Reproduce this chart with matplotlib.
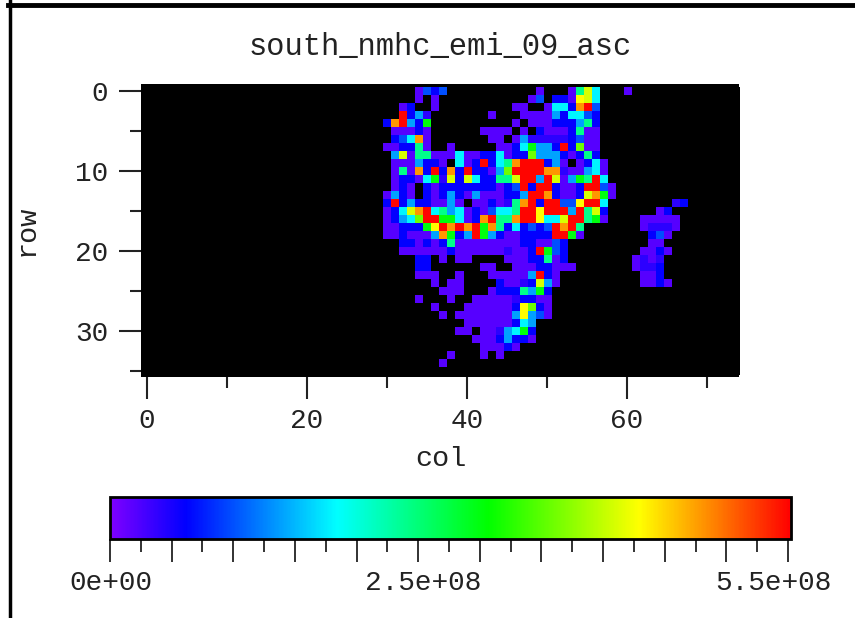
import numpy as np
import matplotlib
matplotlib.use("Agg")
import matplotlib.pyplot as plt
from matplotlib.colors import LinearSegmentedColormap
from matplotlib.lines import Line2D

# Cell levels, in units of 1e7
_, p, v, b, d, a, c, t, g, l, y, Y, o, r = 0, 2, 4, 6, 10, 14, 18, 24, 30, 36, 41, 43, 48, 55

title = "south_nmhc_emi_09_asc"
first_col = 30
n_rows, n_cols = 36, 75

# each row lists columns 30..67; everything else is empty
row_00 = [_,_,_,_,p,d,b,d,_,_, _,_,_,_,_,_,_,_,_,p, _,_,_,p,t,y,c,_,_,_, p,_,_,_,_,_,_,_]
row_01 = [_,_,_,_,p,_,p,_,_,_, _,_,_,_,_,_,_,_,p,d, _,b,b,p,Y,y,c,_,_,_, _,_,_,_,_,_,_,_]
row_02 = [_,_,p,b,_,_,p,_,_,_, _,_,_,_,_,_,p,p,_,_, p,c,c,b,o,r,d,_,_,_, _,_,_,_,_,_,_,_]
row_03 = [_,_,r,b,a,v,_,_,_,_, _,_,_,p,_,_,_,p,p,p, p,a,b,c,c,d,b,_,_,_, _,_,_,_,_,_,_,_]
row_04 = [b,o,r,a,b,g,_,_,_,_, _,_,_,_,_,_,p,_,p,p, p,b,b,b,a,t,b,_,_,_, _,_,_,_,_,_,_,_]
row_05 = [_,p,p,p,b,p,_,_,_,_, _,_,p,p,p,p,_,p,_,b, p,p,p,b,t,p,p,_,_,_, _,_,_,_,_,_,_,_]
row_06 = [_,b,d,c,o,p,_,_,_,_, _,_,_,p,p,_,p,a,v,v, v,v,v,b,d,p,p,_,_,_, _,_,_,_,_,_,_,_]
row_07 = [p,p,b,b,t,p,_,_,p,_, _,_,_,_,p,p,b,c,g,a, a,b,r,b,l,p,p,_,_,_, _,_,_,_,_,_,_,_]
row_08 = [_,a,y,p,t,t,p,p,p,c, p,p,b,b,c,p,b,b,l,a, a,a,b,p,b,t,b,_,_,_, _,_,_,_,_,_,_,_]
row_09 = [_,p,p,p,a,b,b,p,_,c, p,b,r,b,c,t,o,r,r,r, b,a,p,_,p,b,c,p,_,_, _,_,_,_,_,_,_,_]
row_10 = [_,p,t,p,o,b,r,b,o,b, r,b,b,p,a,l,r,r,r,r, o,o,v,p,p,a,c,p,_,_, _,_,_,_,_,_,_,_]
row_11 = [_,p,b,b,p,c,g,v,y,b, y,c,b,b,t,t,y,r,r,a, r,y,p,a,g,t,r,c,_,_, _,_,_,_,_,_,_,_]
row_12 = [_,p,b,p,_,b,p,b,b,b, b,b,b,b,p,b,d,r,b,r, r,b,p,p,b,r,r,d,p,_, _,_,_,_,_,_,_,_]
row_13 = [p,a,b,p,_,b,p,b,a,b, p,a,p,p,p,b,b,a,r,r, o,b,p,p,b,y,o,g,p,_, _,_,_,_,_,_,_,_]
row_14 = [b,r,b,a,b,b,p,p,a,p, _,p,p,b,p,v,t,o,r,b, r,r,d,d,Y,r,r,c,_,_, _,_,_,_,_,_,v,b]
row_15 = [p,b,c,y,o,r,c,t,a,c, p,b,p,d,c,c,t,r,r,Y, r,r,r,a,r,t,y,b,_,_, _,_,_,_,p,b,_,_]
row_16 = [p,b,a,c,l,r,r,g,g,c, p,b,o,r,t,t,o,r,r,Y, c,c,y,r,r,t,g,p,_,_, _,_,p,p,p,p,p,_]
row_17 = [p,p,b,b,b,g,Y,r,o,r, o,r,g,o,t,b,c,b,d,b, d,r,o,r,t,_,_,_,_,_, _,_,p,v,v,v,p,_]
row_18 = [p,p,b,p,p,p,a,o,g,b, a,r,g,a,b,p,p,b,b,b, b,r,r,g,p,_,_,_,_,_, _,_,_,b,d,p,_,_]
row_19 = [_,_,b,b,p,b,p,b,t,p, p,p,p,p,p,p,p,b,b,p, p,d,b,_,_,_,_,_,_,_, _,_,_,p,p,_,_,_]
row_20 = [_,_,p,p,p,p,p,p,b,p, p,p,p,p,p,v,p,p,b,r, g,d,b,_,_,_,_,_,_,_, _,_,p,p,b,p,_,_]
row_21 = [_,_,_,_,b,b,_,p,_,p, p,_,_,_,_,p,p,p,b,b, t,p,b,_,_,_,_,_,_,_, _,p,v,p,v,_,_,_]
row_22 = [_,_,_,_,b,b,_,_,_,_, _,_,p,p,_,_,p,p,p,b, b,p,p,p,_,_,_,_,_,_, _,p,v,v,b,_,_,_]
row_23 = [_,_,_,_,p,p,p,_,_,p, _,_,_,p,p,p,p,p,a,r, b,p,_,_,_,_,_,_,_,_, _,_,p,p,b,_,_,_]
row_24 = [_,_,_,_,_,_,p,_,p,p, _,_,_,_,b,p,p,v,b,y, a,p,_,_,_,_,_,_,_,_, _,_,p,p,b,p,_,_]
row_25 = [_,_,_,_,_,_,_,p,p,p, _,_,_,p,b,b,b,t,a,g, b,_,_,_,_,_,_,_,_,_, _,_,_,_,_,_,_,_]
row_26 = [_,_,_,_,p,_,_,_,p,_, _,p,p,p,p,p,v,b,b,p, p,_,_,_,_,_,_,_,_,_, _,_,_,_,_,_,_,_]
row_27 = [_,_,_,_,_,_,p,_,_,_, p,p,p,p,p,p,b,Y,l,b, p,_,_,_,_,_,_,_,_,_, _,_,_,_,_,_,_,_]
row_28 = [_,_,_,_,_,_,_,p,_,p, p,p,p,p,p,p,a,Y,a,d, p,_,_,_,_,_,_,_,_,_, _,_,_,_,_,_,_,_]
row_29 = [_,_,_,_,_,_,_,_,_,_, p,p,p,p,p,p,b,c,a,_, _,_,_,_,_,_,_,_,_,_, _,_,_,_,_,_,_,_]
row_30 = [_,_,_,_,_,_,_,_,_,p, p,_,p,p,v,a,c,g,b,_, _,_,_,_,_,_,_,_,_,_, _,_,_,_,_,_,_,_]
row_31 = [_,_,_,_,_,_,_,_,_,_, _,p,p,p,b,a,b,b,p,_, _,_,_,_,_,_,_,_,_,_, _,_,_,_,_,_,_,_]
row_32 = [_,_,_,_,_,_,_,_,_,_, _,_,p,p,p,b,p,_,_,_, _,_,_,_,_,_,_,_,_,_, _,_,_,_,_,_,_,_]
row_33 = [_,_,_,_,_,_,_,_,p,_, _,_,p,_,p,_,_,_,_,_, _,_,_,_,_,_,_,_,_,_, _,_,_,_,_,_,_,_]
row_34 = [_,_,_,_,_,_,_,p,_,_, _,_,_,_,_,_,_,_,_,_, _,_,_,_,_,_,_,_,_,_, _,_,_,_,_,_,_,_]

rows = [row_00, row_01, row_02, row_03, row_04, row_05, row_06, row_07, row_08,
        row_09, row_10, row_11, row_12, row_13, row_14, row_15, row_16, row_17,
        row_18, row_19, row_20, row_21, row_22, row_23, row_24, row_25, row_26,
        row_27, row_28, row_29, row_30, row_31, row_32, row_33, row_34]

grid = np.zeros((n_rows, n_cols))
for i, vals in enumerate(rows):
    grid[i, first_col:first_col + len(vals)] = np.array(vals) * 1e7
grid = np.ma.masked_equal(grid, 0)

cmap = LinearSegmentedColormap.from_list(
    "pv", [(0, "#7f00ff"), (1/9, "#0000ff"), (3/9, "#00ffff"),
           (5/9, "#00ff00"), (7/9, "#ffff00"), (1, "#ff0000")], N=512)
cmap.set_bad("black")

W, H = 855, 618
TEXT = "#222222"
plt.rcParams["font.family"] = ["Liberation Mono", "DejaVu Sans Mono"]
fig = plt.figure(figsize=(W / 100, H / 100), dpi=100)


def box(x0, y0, x1, y1):
    return [x0 / W, 1 - y1 / H, (x1 - x0) / W, (y1 - y0) / H]


ax = fig.add_axes(box(141, 84, 739, 377), facecolor="black")
im = ax.imshow(grid, cmap=cmap, vmin=0, vmax=5.524e8, aspect="auto",
               interpolation="nearest")
ax.set_xlim(-0.75, 74)
ax.set_ylim(35.75, -0.875)
for s in ax.spines.values():
    s.set_visible(False)
ax.set_xticks([0, 20, 40, 60])
ax.set_xticks([10, 30, 50, 70], minor=True)
ax.set_yticks([0, 10, 20, 30])
ax.set_yticks([5, 15, 25, 35], minor=True)
ax.tick_params(which="major", length=15.5, width=1.5, labelsize=20, color=TEXT, labelcolor=TEXT)
ax.tick_params(which="minor", length=8, width=1.5, color=TEXT)
ax.tick_params(axis="x", which="major", pad=7)
ax.tick_params(axis="y", which="major", pad=8)
fig.text(440 / W, 1 - 47 / H, title, ha="center", va="center", fontsize=22, color=TEXT)
fig.text(441 / W, 1 - 459 / H, "col", ha="center", va="center", fontsize=20.5, color=TEXT)
fig.text(27 / W, 1 - 230 / H, "row", ha="center", va="center", rotation=90, fontsize=20.5, color=TEXT)

cax = fig.add_axes(box(110, 497, 791, 539))
cb = fig.colorbar(im, cax=cax, orientation="horizontal")
cb.set_ticks([i * 0.5e8 for i in range(12)])
cb.set_ticklabels([""] * 12)
cb.ax.xaxis.set_ticks([i * 0.5e8 + 0.25e8 for i in range(11)], minor=True)
cb.outline.set_linewidth(2)
cb.ax.tick_params(which="major", length=16.5, width=1.3, color=TEXT)
cb.ax.tick_params(which="minor", length=9, width=1.3, color=TEXT)
for label, xc in zip(["0e+00", "2.5e+08", "5.5e+08"], [111, 423, 773]):
    fig.text(xc / W, 1 - 583 / H, label, ha="center", va="center", fontsize=20, color=TEXT)

fig.add_artist(Line2D([9.5 / W, 9.5 / W], [0, 1], color="black", lw=2.5))
fig.add_artist(Line2D([8 / W, 1], [1 - 5 / H, 1 - 5 / H], color="black", lw=3.5))

fig.savefig("out.png", dpi=100)
